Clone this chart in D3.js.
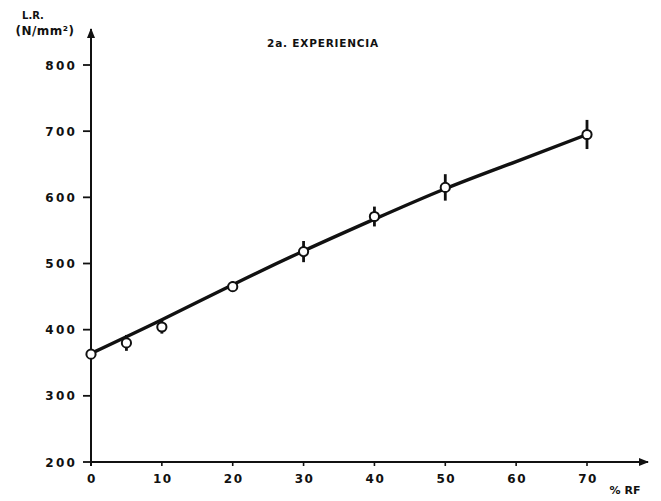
<!DOCTYPE html>
<html><head><meta charset="utf-8">
<script src="https://cdn.jsdelivr.net/npm/d3@7"></script>
<style>
body{margin:0;background:#fff;}
text{font-family:"DejaVu Sans",sans-serif;font-weight:bold;fill:#111;}
</style></head>
<body>
<svg id="c" width="661" height="501"></svg>
<script>
// Data
const xTicks = [0,10,20,30,40,50,60,70];
const yTicks = [200,300,400,500,600,700,800];
const pointX = [0,5,10,20,30,40,50,70];
const pointY = [363,380,404,465,518,571,615,695];
const pointErr = [0,12,10,8,16,15,20,22];
const curveX = [0,10,20,30,40,50,60,70];
const curveY = [364,415,468,519,567,613,654,695];
const titleText = "2a. EXPERIENCIA";
const yLabel1 = "L.R.";
const yLabel2 = "(N/mm²)";
const xLabel = "% RF";

const svg = d3.select("#c");
const x = d3.scaleLinear().domain([0,70]).range([91,587]);
const y = d3.scaleLinear().domain([200,800]).range([462,65]);
const ink = "#111";

svg.append("defs").append("marker").attr("id","arr").attr("viewBox","0 0 10 10")
  .attr("refX",9).attr("refY",5).attr("markerWidth",5).attr("markerHeight",5).attr("orient","auto")
  .append("path").attr("d","M0,1L10,5L0,9Z").attr("fill",ink);

svg.append("line").attr("x1",x(0)).attr("x2",648).attr("y1",y(200)).attr("y2",y(200))
  .attr("stroke",ink).attr("stroke-width",2).attr("marker-end","url(#arr)");
svg.append("line").attr("x1",x(0)).attr("x2",x(0)).attr("y1",y(200)+4).attr("y2",29)
  .attr("stroke",ink).attr("stroke-width",2).attr("marker-end","url(#arr)");

const yg = svg.append("g");
yTicks.forEach(v=>{
  yg.append("line").attr("x1",x(0)-8).attr("x2",x(0)).attr("y1",y(v)).attr("y2",y(v))
    .attr("stroke",ink).attr("stroke-width",1.8);
  yg.append("text").attr("x",x(0)-14).attr("y",y(v)+4.5).attr("text-anchor","end")
    .attr("font-size",12).attr("letter-spacing",2.2).text(v);
});
const xg = svg.append("g");
xTicks.forEach(v=>{
  if(v>0) xg.append("line").attr("x1",x(v)).attr("x2",x(v)).attr("y1",y(200)).attr("y2",y(200)+4)
    .attr("stroke",ink).attr("stroke-width",1.6);
  xg.append("text").attr("x",x(v)+1).attr("y",y(200)+21).attr("text-anchor","middle")
    .attr("font-size",12).attr("letter-spacing",1.5).text(v);
});

svg.append("text").attr("x",33).attr("y",19).attr("text-anchor","middle").attr("font-size",10).text(yLabel1);
svg.append("text").attr("x",45).attr("y",35).attr("text-anchor","middle").attr("font-size",12).attr("letter-spacing",0.5).text(yLabel2);
svg.append("text").attr("x",323).attr("y",47).attr("text-anchor","middle").attr("font-size",10.5).attr("letter-spacing",0.8).text(titleText);
svg.append("text").attr("x",625).attr("y",494).attr("text-anchor","middle").attr("font-size",11).text(xLabel);

const cdata = curveX.map((d,i)=>[d,curveY[i]]);
svg.append("path").datum(cdata)
  .attr("d", d3.line().x(d=>x(d[0])).y(d=>y(d[1])).curve(d3.curveNatural))
  .attr("fill","none").attr("stroke",ink).attr("stroke-width",3.4);

const pts = pointX.map((d,i)=>({x:d,y:pointY[i],e:pointErr[i]}));
svg.append("g").selectAll("line").data(pts.filter(d=>d.e>0)).join("line")
  .attr("x1",d=>x(d.x)).attr("x2",d=>x(d.x))
  .attr("y1",d=>y(d.y-d.e)).attr("y2",d=>y(d.y+d.e))
  .attr("stroke",ink).attr("stroke-width",2.8);
svg.append("g").selectAll("circle").data(pts).join("circle")
  .attr("cx",d=>x(d.x)).attr("cy",d=>y(d.y)).attr("r",4.6)
  .attr("fill","#fff").attr("stroke",ink).attr("stroke-width",2);
</script>
</body></html>
